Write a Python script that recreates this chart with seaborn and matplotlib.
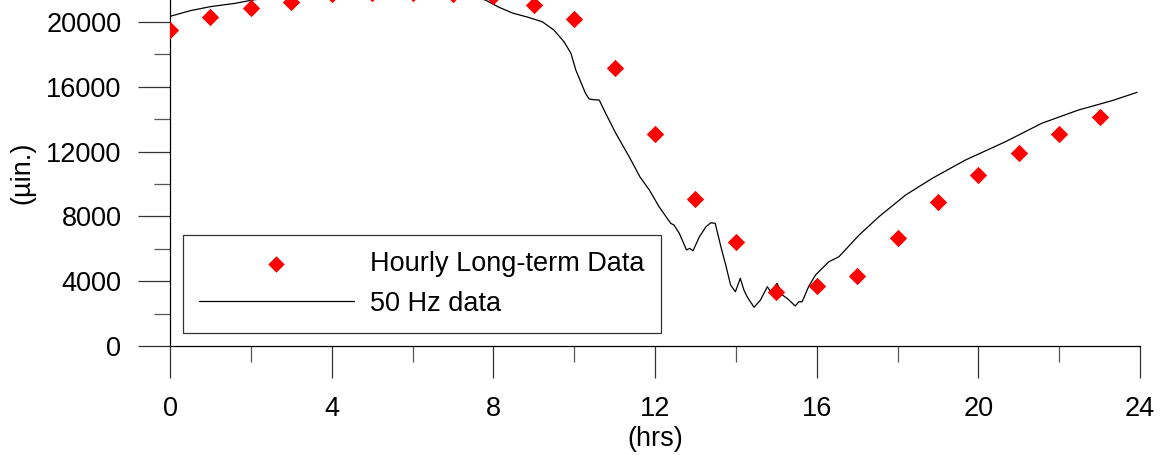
import matplotlib
matplotlib.use('Agg')
import matplotlib.pyplot as plt
from matplotlib.ticker import MultipleLocator
import seaborn as sns
import pandas as pd

# hourly long-term data (red diamonds)
hrs_hourly = list(range(24))
strain_hourly = [19500, 20300, 20850, 21250, 21700, 21800, 21800, 21750, 21600, 21030,
                 20180, 17190, 13070, 9060, 6430, 3320, 3680, 4350, 6680, 8900,
                 10540, 11930, 13080, 14130]

# 50 Hz data (black line)
hrs_50hz = [0.0, 0.5, 1.0, 1.6, 2.05, 3.0, 4.0, 5.0, 6.0, 7.0, 7.8, 8.15, 8.48, 8.85,
            9.21, 9.5, 9.75, 9.92, 10.04, 10.16, 10.28, 10.37, 10.5, 10.62, 10.78,
            11.03, 11.36, 11.63, 11.86, 12.1, 12.39, 12.47, 12.6, 12.78, 12.86, 12.94,
            13.1, 13.26, 13.38, 13.49, 13.63, 13.75, 13.87, 13.99, 14.11, 14.2, 14.28,
            14.45, 14.61, 14.78, 14.86, 15.02, 15.15, 15.27, 15.47, 15.56, 15.64, 15.8,
            15.97, 16.3, 16.55, 17.05, 17.54, 18.2, 18.86, 19.68, 20.67, 21.57, 22.48,
            23.3, 23.93]
strain_50hz = [20350, 20700, 20950, 21150, 21360, 21700, 21900, 22000, 22000, 21850,
               21360, 20900, 20550, 20300, 20020, 19500, 18780, 18070, 17040, 16320,
               15600, 15250, 15200, 15185, 14360, 13130, 11690, 10430, 9630, 8600, 7570,
               7470, 6960, 5930, 6030, 5880, 6750, 7360, 7610, 7570, 6130, 5000, 3765,
               3350, 4180, 3460, 3040, 2390, 2840, 3660, 3350, 3870, 3150, 2940, 2470,
               2730, 2730, 3660, 4380, 5200, 5510, 6850, 7980, 9320, 10350, 11480, 12610,
               13750, 14570, 15140, 15660]

hourly = pd.DataFrame({'hrs': hrs_hourly, 'strain': strain_hourly})
fast = pd.DataFrame({'hrs': hrs_50hz, 'strain': strain_50hz})

sns.set_style('ticks')
plt.rcParams['font.family'] = ['Liberation Sans', 'DejaVu Sans']
plt.rcParams['text.color'] = 'black'
plt.rcParams['axes.labelcolor'] = 'black'

fig = plt.figure(figsize=(11.62, 4.55), dpi=100)
ax = fig.add_axes([170 / 1162, 1 - 346 / 455, 970 / 1162, 346 / 455])

sns.scatterplot(data=hourly, x='hrs', y='strain', marker='D', s=78, color='#ff0000',
                linewidth=0, ax=ax, label='Hourly Long-term Data', zorder=3)
sns.lineplot(data=fast, x='hrs', y='strain', color='black', linewidth=0.9,
             estimator=None, sort=False, ax=ax, label='50 Hz data')

ax.set_xlim(0, 24)
ax.set_ylim(0, 21360)
ax.xaxis.set_major_locator(MultipleLocator(4))
ax.xaxis.set_minor_locator(MultipleLocator(2))
ax.yaxis.set_major_locator(MultipleLocator(4000))
ax.yaxis.set_minor_locator(MultipleLocator(2000))
ax.tick_params(which='major', direction='out', length=23, width=0.9, color='#333333',
               labelsize=19.5, labelcolor='black')
ax.tick_params(which='minor', direction='out', length=11.5, width=0.9, color='#555555')
ax.tick_params(axis='x', which='major', pad=13)
ax.tick_params(axis='y', which='major', pad=12)

sns.despine(ax=ax)
for side in ['left', 'bottom']:
    ax.spines[side].set_linewidth(0.9)
    ax.spines[side].set_color('black')

ax.set_xlabel('(hrs)', fontsize=19.5, labelpad=3)
ax.set_ylabel('(µin.)', fontsize=19.5, labelpad=8)

leg = ax.legend(loc='lower left', bbox_to_anchor=(13 / 970, 13 / 346), borderaxespad=0,
                fontsize=19.5, frameon=True, fancybox=False, shadow=False,
                handlelength=5.7, handletextpad=0.6, labelspacing=0.5,
                borderpad=0.6, markerscale=0.95)
leg.get_frame().set_edgecolor('black')
leg.get_frame().set_linewidth(0.9)

fig.savefig('out.png', dpi=100)
